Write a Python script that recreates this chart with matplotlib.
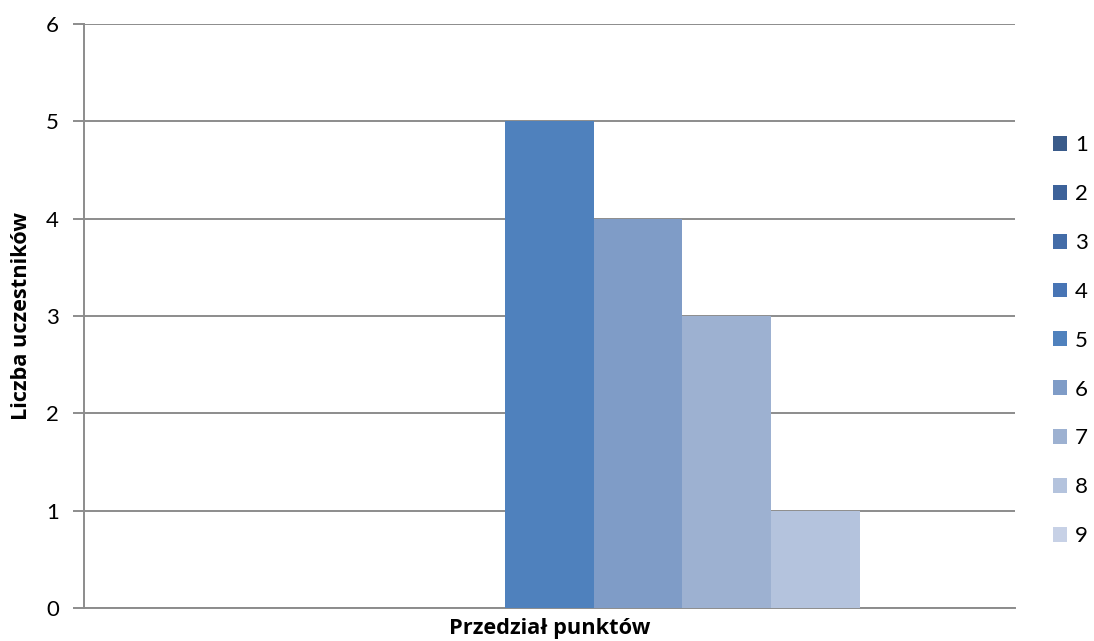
import matplotlib
matplotlib.use('Agg')
import matplotlib.pyplot as plt
import numpy as np

series_labels = ["1", "2", "3", "4", "5", "6", "7", "8", "9"]
series_values = [0, 0, 0, 0, 5, 4, 3, 1, 0]
series_colors = ["#3A5B8A", "#3D629A", "#436CA8", "#4875B5", "#4F81BD",
                 "#7F9CC7", "#9DB1D1", "#B4C3DD", "#C7D1E6"]
y_ticks = [0, 1, 2, 3, 4, 5, 6]

plt.rcParams['font.family'] = ['Lato', 'DejaVu Sans']

fig = plt.figure(figsize=(10.94, 6.41), dpi=100)
ax = fig.add_axes([0.0768, 0.0515, 0.851, 0.911])

n = len(series_values)
width = 0.0952
offsets = (np.arange(n) - (n - 1) / 2) * width
handles = []
for off, val, col, lab in zip(offsets, series_values, series_colors, series_labels):
    b = ax.bar(off, val, width=width, color=col, label=lab, zorder=3)
    handles.append(b)

ax.set_xlim(-0.5, 0.5)
ax.set_ylim(0, 6)
ax.set_yticks(y_ticks)
ax.set_xticks([])
ax.yaxis.grid(True, color="#8C8C8C", linewidth=1.4, zorder=0)
for s in ["top", "right"]:
    ax.spines[s].set_visible(False)
for s in ["left", "bottom"]:
    ax.spines[s].set_color("#8C8C8C")
    ax.spines[s].set_linewidth(1.4)
ax.tick_params(axis='y', length=8, width=1.4, color="#8C8C8C", labelsize=16, pad=10)

label_font = dict(family=['Open Sans', 'DejaVu Sans'], fontsize=15.7, fontweight="bold")
ax.set_ylabel("Liczba uczestników", labelpad=10, **label_font)
ax.set_xlabel("Przedział punktów", labelpad=7, **label_font)

ax.legend(handles=handles, labels=series_labels, loc="upper left",
          bbox_to_anchor=(1.031, 0.825), frameon=False, fontsize=16,
          handlelength=0.65, handleheight=0.65, handletextpad=0.35,
          labelspacing=1.3, borderaxespad=0)

fig.savefig("out.png", dpi=100)
